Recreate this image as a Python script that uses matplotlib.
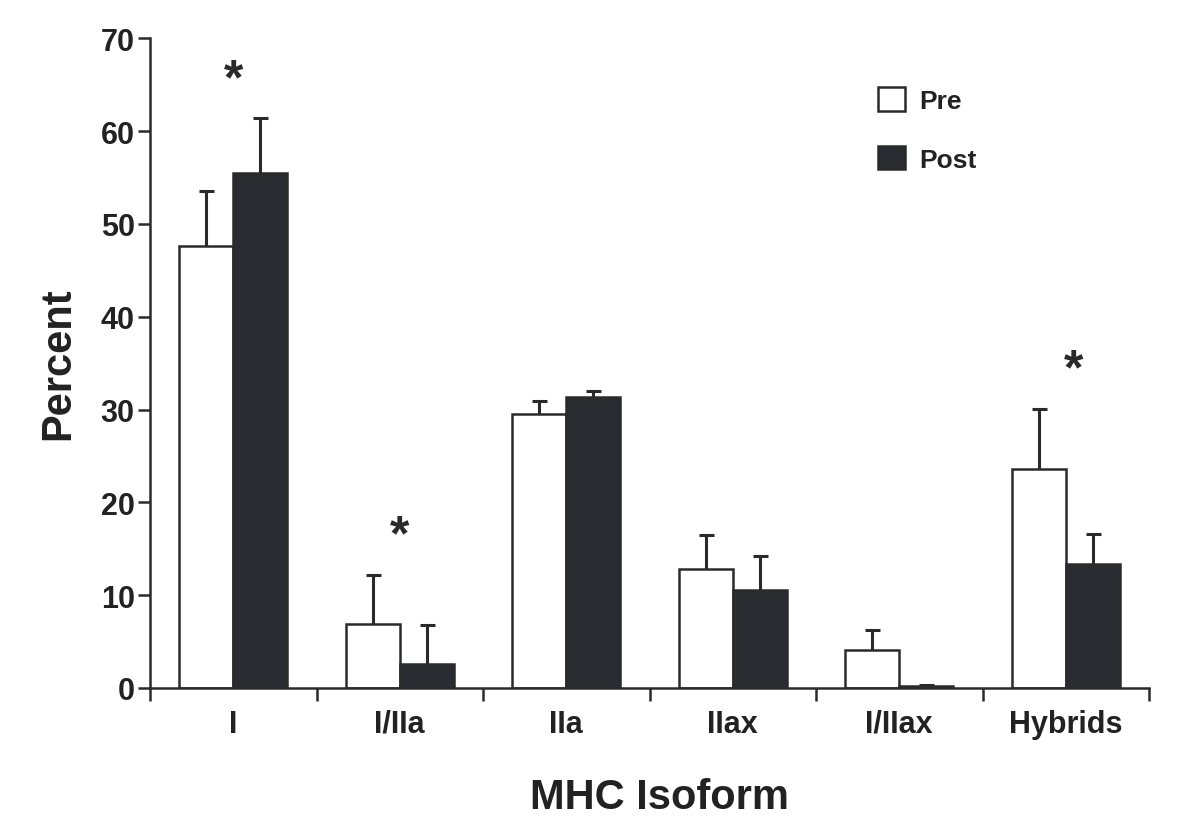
import numpy as np
import matplotlib
matplotlib.use("Agg")
import matplotlib.pyplot as plt
import matplotlib.patches as mpatches

# ─── Données ────────────────────────────────────────────────
isoforms  = ["I", "I/IIa", "IIa", "IIax", "I/IIax", "Hybrids"]
pre_mean  = [47.6, 6.9, 29.5, 12.8, 4.1, 23.6]
pre_err   = [6.0, 5.3, 1.4, 3.7, 2.1, 6.5]
post_mean = [55.5, 2.6, 31.4, 10.5, 0.2, 13.3]
post_err  = [5.9, 4.2, 0.6, 3.7, 0.1, 3.3]
signif    = ["I", "I/IIa", "Hybrids"]   # groupes marqués d'un *

DARK   = "#2b2c31"
LINE   = "#2a2a2a"
TXT    = "#222222"
FONT   = ["Liberation Sans", "DejaVu Sans"]
plt.rcParams["font.family"] = FONT

fig = plt.figure(figsize=(12, 8.28), dpi=100)
ax = fig.add_axes([0.125, 0.168, 0.8325, 0.7845])

x = np.arange(len(isoforms))
w = 0.325

ax.bar(x - w / 2, pre_mean, width=w, color="white", edgecolor=LINE, linewidth=1.8, zorder=2)
ax.bar(x + w / 2, post_mean, width=w, color=DARK, edgecolor=LINE, linewidth=1.8, zorder=2)

for xs, m, e in [(x - w / 2, pre_mean, pre_err), (x + w / 2, post_mean, post_err)]:
    _, caps, _ = ax.errorbar(xs, m, yerr=[np.zeros(len(e)), e], fmt="none",
                             ecolor=LINE, elinewidth=2.2, capsize=5.4,
                             capthick=2.2, zorder=3)
    caps[0].set_visible(False)

# Astérisques de significativité
for name in signif:
    i = isoforms.index(name)
    top = max(pre_mean[i] + pre_err[i], post_mean[i] + post_err[i])
    ax.text(i + (0.05 if name == "Hybrids" else 0), top + 2.7, "*",
            ha="center", va="baseline", fontsize=36, fontweight="bold", color=LINE)

# ─── Axes ──────────────────────────────────────────────────
ax.set_xlim(-0.5, len(isoforms) - 0.5)
ax.set_ylim(0, 70)
ax.set_yticks(np.arange(0, 71, 10))
ax.set_xticks(np.arange(-0.5, len(isoforms), 1.0))
ax.set_xticklabels([])
ax.set_xticks(x, minor=True)
ax.set_xticklabels(isoforms, minor=True)

ax.tick_params(axis="y", direction="out", length=9, width=1.8, color=LINE,
               labelsize=22, pad=2)
ax.tick_params(axis="x", which="major", direction="out", length=9, width=1.8, color=LINE)
ax.tick_params(axis="x", which="minor", length=0, labelsize=22, pad=15)
for lab in ax.get_yticklabels() + ax.get_xticklabels(minor=True):
    lab.set_fontweight("bold")
    lab.set_color(TXT)

for side in ["top", "right"]:
    ax.spines[side].set_visible(False)
for side in ["left", "bottom"]:
    ax.spines[side].set_linewidth(1.8)
    ax.spines[side].set_color(LINE)

ax.set_ylabel("Percent", fontsize=30, fontweight="bold", color=TXT)
ax.yaxis.set_label_coords(-0.072, 0.5)
ax.set_xlabel("MHC Isoform", fontsize=30, fontweight="bold", color=TXT)
ax.xaxis.set_label_coords(0.51, -0.137)

handles = [
    mpatches.Patch(facecolor="white", edgecolor=LINE, linewidth=1.8, label="Pre"),
    mpatches.Patch(facecolor=DARK, edgecolor=LINE, linewidth=1.8, label="Post"),
]
leg = ax.legend(handles=handles, loc="upper left", bbox_to_anchor=(0.729, 0.925),
                frameon=False, borderpad=0, borderaxespad=0,
                handlelength=1.0, handleheight=1.0, handletextpad=0.55,
                labelspacing=1.25, prop={"family": FONT, "weight": "bold", "size": 19})
for t in leg.get_texts():
    t.set_color(TXT)

fig.savefig("out.png", dpi=100, facecolor="white")
